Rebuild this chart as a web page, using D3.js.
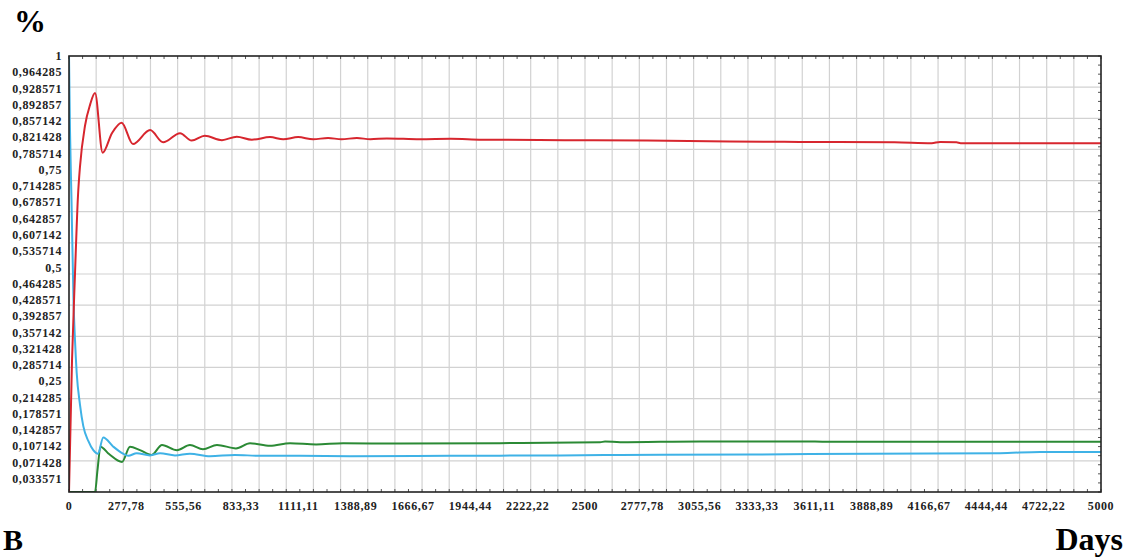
<!DOCTYPE html>
<html>
<head>
<meta charset="utf-8">
<script src="https://cdn.jsdelivr.net/npm/d3@7"></script>
<style>
  html, body { margin: 0; padding: 0; background: #fff; }
  svg { display: block; }
  text { font-family: "Liberation Serif", "Times New Roman", serif; font-weight: bold; }
</style>
</head>
<body>
<svg id="chart" width="1125" height="557"></svg>
<script>
// ---- Data (days, share) ----
const redT   = [0, 14.5, 29, 43.6, 53, 77.5, 102, 126, 163, 208, 255, 310, 393, 456, 538, 594, 658, 741, 813, 886, 974, 1038, 1110, 1183, 1255, 1320, 1395, 1460, 1540, 1700, 1850, 2000, 2400, 2800, 3200, 3540, 4000, 4180, 4220, 4300, 4320, 5000];
const redV   = [0, 0.300, 0.500, 0.680, 0.745, 0.840, 0.888, 0.915, 0.778, 0.823, 0.847, 0.798, 0.830, 0.802, 0.823, 0.806, 0.817, 0.807, 0.815, 0.808, 0.814, 0.809, 0.814, 0.809, 0.812, 0.809, 0.812, 0.809, 0.811, 0.809, 0.810, 0.808, 0.807, 0.806, 0.804, 0.803, 0.802, 0.800, 0.803, 0.802, 0.800, 0.800];

const cyanT  = [0, 4.8, 12.1, 21.8, 29, 37.3, 53.3, 69.3, 93.5, 117.7, 140.5, 166, 214.6, 261.6, 287.3, 328, 392.4, 441, 513.6, 586, 683, 804, 925, 1119, 1361, 1846, 2379, 2670, 3299, 3881, 4511, 4705, 5000];
const cyanV  = [1.0, 0.830, 0.670, 0.440, 0.349, 0.273, 0.200, 0.151, 0.117, 0.096, 0.088, 0.125, 0.104, 0.088, 0.083, 0.089, 0.084, 0.089, 0.084, 0.088, 0.082, 0.085, 0.083, 0.083, 0.082, 0.083, 0.084, 0.085, 0.086, 0.088, 0.089, 0.092, 0.092];

const greenT = [0, 126, 138, 152.6, 194, 257, 295.5, 344, 400.7, 450.6, 523, 586, 649, 717, 809, 877, 974, 1071, 1197, 1328, 1604, 2088, 2573, 2597, 2670, 3057, 3614, 3687, 4511, 5000];
const greenV = [0, 0, 0.050, 0.104, 0.087, 0.069, 0.104, 0.096, 0.085, 0.108, 0.096, 0.108, 0.098, 0.108, 0.100, 0.112, 0.106, 0.112, 0.109, 0.112, 0.111, 0.112, 0.114, 0.116, 0.114, 0.116, 0.116, 0.115, 0.115, 0.115];

// ---- Tick labels ----
const yTickLabels = ["1", "0,964285", "0,928571", "0,892857", "0,857142", "0,821428", "0,785714", "0,75", "0,714285", "0,678571", "0,642857", "0,607142", "0,535714", "0,5", "0,464285", "0,428571", "0,392857", "0,357142", "0,321428", "0,285714", "0,25", "0,214285", "0,178571", "0,142857", "0,107142", "0,071428", "0,033571"];
const xTickValues = [0, 277.78, 555.56, 833.33, 1111.11, 1388.89, 1666.67, 1944.44, 2222.22, 2500, 2777.78, 3055.56, 3333.33, 3611.11, 3888.89, 4166.67, 4444.44, 4722.22, 5000];
const xTickLabels = ["0", "277,78", "555,56", "833,33", "1111,11", "1388,89", "1666,67", "1944,44", "2222,22", "2500", "2777,78", "3055,56", "3333,33", "3611,11", "3888,89", "4166,67", "4444,44", "4722,22", "5000"];

const titleY = "%";
const panelLabel = "B";
const titleX = "Days";

// ---- Layout ----
const L = 69, R = 1101, T = 56, B = 492;
const svg = d3.select("#chart");

const x = d3.scaleLinear().domain([0, 5000]).range([L, R]);
const y = d3.scaleLinear().domain([0, 1]).range([B, T]);
const yLab = d3.scalePoint().domain(yTickLabels).range([T, 479]);

// grid
const gridG = svg.append("g");
const vGrid = d3.range(1, 38).map(i => 5000 * i / 38);
const hGrid = d3.range(1, 14).map(i => i / 14);
gridG.selectAll("line.v").data(vGrid).join("line")
  .attr("x1", d => x(d)).attr("x2", d => x(d))
  .attr("y1", T).attr("y2", B)
  .attr("stroke", "#d2d2d2").attr("stroke-width", 1.2);
gridG.selectAll("line.h").data(hGrid).join("line")
  .attr("y1", d => y(d)).attr("y2", d => y(d))
  .attr("x1", L).attr("x2", R)
  .attr("stroke", "#d2d2d2").attr("stroke-width", 1.2);

// minor ticks on frame
const minorX = d3.range(0, 77).map(i => 5000 * i / 76);
svg.append("g").selectAll("line").data(minorX).join("line")
  .attr("x1", d => x(d)).attr("x2", d => x(d))
  .attr("y1", T).attr("y2", T + 3)
  .attr("stroke", "#555").attr("stroke-width", 1);
svg.append("g").selectAll("line").data(minorX).join("line")
  .attr("x1", d => x(d)).attr("x2", d => x(d))
  .attr("y1", B).attr("y2", B - 3)
  .attr("stroke", "#555").attr("stroke-width", 1);
const minorY = d3.range(0, 49).map(i => i / 48);
svg.append("g").selectAll("line").data(minorY).join("line")
  .attr("y1", d => y(d)).attr("y2", d => y(d))
  .attr("x1", R).attr("x2", R - 3)
  .attr("stroke", "#555").attr("stroke-width", 1);

// series
const line = d3.line().x(d => x(d[0])).y(d => y(d[1])).curve(d3.curveMonotoneX);
const series = [
  { t: greenT, v: greenV, c: "#2b8a35" },
  { t: cyanT,  v: cyanV,  c: "#3fb2e6" },
  { t: redT,   v: redV,   c: "#d7262e" }
];
svg.append("clipPath").attr("id", "clip").append("rect")
  .attr("x", L).attr("y", T - 1).attr("width", R - L).attr("height", B - T + 1);
svg.append("g").attr("clip-path", "url(#clip)").selectAll("path").data(series).join("path")
  .attr("d", s => line(s.t.map((t, i) => [t, s.v[i]])))
  .attr("fill", "none").attr("stroke", s => s.c).attr("stroke-width", 2)
  .attr("stroke-linejoin", "round");

// frame
svg.append("rect").attr("x", L).attr("y", T).attr("width", R - L).attr("height", B - T)
  .attr("fill", "none").attr("stroke", "#222").attr("stroke-width", 1.6);

// y tick labels
svg.append("g").selectAll("text").data(yTickLabels).join("text")
  .attr("x", 62).attr("y", d => yLab(d) + 4)
  .attr("text-anchor", "end")
  .attr("font-size", 12).attr("letter-spacing", 0.6)
  .attr("fill", "#222")
  .text(d => d);

// x tick labels
svg.append("g").selectAll("text").data(xTickValues).join("text")
  .attr("x", d => x(d)).attr("y", 510)
  .attr("text-anchor", "middle")
  .attr("font-size", 12).attr("letter-spacing", 0.6)
  .attr("fill", "#222")
  .text((d, i) => xTickLabels[i]);

// titles
svg.append("text").attr("x", 14).attr("y", 32).attr("font-size", 32).attr("fill", "#000").text(titleY);
svg.append("text").attr("x", 3).attr("y", 550).attr("font-size", 30).attr("fill", "#000").text(panelLabel);
svg.append("text").attr("x", 1123).attr("y", 550).attr("text-anchor", "end").attr("font-size", 32).attr("fill", "#000").text(titleX);
</script>
</body>
</html>
